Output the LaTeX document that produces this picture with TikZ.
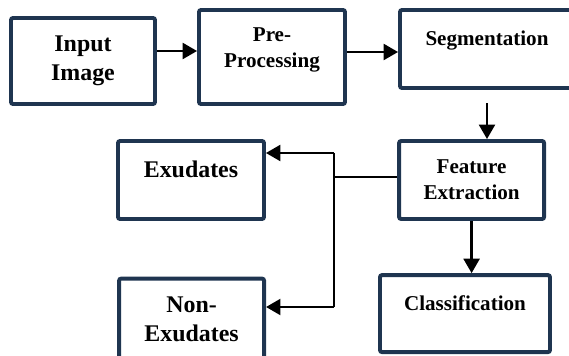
\documentclass[tikz,border=0pt]{standalone}
\usepackage{fontspec}
\setmainfont{Liberation Serif}
\newfontfamily\tnr{Liberation Serif}
\usepackage{tikz}
\usetikzlibrary{arrows.meta,positioning,calc}
\definecolor{boxNavy}{HTML}{1F3550}

\begin{document}
\begin{tikzpicture}[
  font=\tnr\bfseries\fontsize{15}{18.5}\selectfont,
  blk/.style={draw=boxNavy, line width=2.8pt, fill=white, rounded corners=1.5pt,
    align=center, inner sep=2pt},
  big/.style={font=\tnr\bfseries\fontsize{17}{20.6}\selectfont},
  upper/.style={text depth=0.55cm},
  arr/.style={line width=1.6pt, -{Triangle[length=0.36cm,width=0.4cm]}},
  thin/.style={line width=0.8pt},
]
\useasboundingbox (0,0) rectangle (14.225,-8.9);
\clip (0,0) rectangle (14.225,-8.9);
\node[blk,big, minimum width=3.6cm, minimum height=2.15cm] (inp) at (2.075,-1.525) {Input\\Image};
\node[blk, minimum width=3.65cm, minimum height=2.35cm, text depth=0.45cm] (pre) at (6.8,-1.425) {Pre-\\Processing};
\node[blk,upper, minimum width=4.35cm, minimum height=1.95cm] (seg) at (12.175,-1.225) {Segmentation};
\node[blk, minimum width=3.625cm, minimum height=1.95cm] (feat) at (11.79,-4.5) {Feature\\Extraction};
\node[blk,upper, minimum width=4.25cm, minimum height=1.925cm] (cls) at (11.625,-7.84) {Classification};
\node[blk,big,upper, minimum width=3.65cm, minimum height=1.95cm] (exu) at (4.775,-4.5) {Exudates};
\node[blk,big, minimum width=3.625cm, minimum height=2.05cm] (non) at (4.79,-7.99) {Non-\\Exudates};
\coordinate (jt) at (8.35,-3.825);
\coordinate (jb) at (8.35,-7.675);
\draw[arr] ([yshift=0.25cm]inp.east) -- ([yshift=0.25cm]inp.east -| pre.west);
\draw[arr] ([yshift=0.125cm]pre.east) -- ([yshift=0.125cm]pre.east -| seg.west);
\draw[arr] ([yshift=-0.33cm]seg.south) -- (seg.south |- feat.north);
\draw[arr] (feat.south) -- (feat.south |- cls.north);
\draw[thin] ([yshift=0.075cm]feat.west) -- ([yshift=0.075cm]feat.west -| jt);
\draw[line width=1.6pt] (jt) -- (jb);
\draw[arr] (jt) -- (jt -| exu.east);
\draw[arr] (jb) -- (jb -| non.east);
\end{tikzpicture}
\end{document}
